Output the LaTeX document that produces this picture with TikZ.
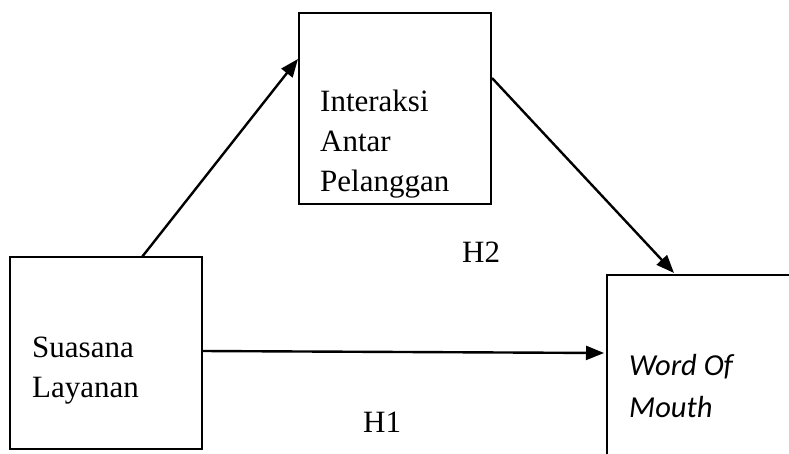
\documentclass[tikz,border=0pt]{standalone}
\usepackage{fontspec}
\setmainfont{Liberation Serif}
\newfontfamily\carlitofont{Carlito}
\usetikzlibrary{arrows.meta}
\begin{document}
\begin{tikzpicture}[x=1pt,y=-1pt,
  boxnode/.style={draw=black,line width=2pt,inner sep=0pt},
  lbl/.style={anchor=base west,inner sep=0pt,font=\fontsize{31}{40}\selectfont},
  wlbl/.style={anchor=base west,inner sep=0pt,font=\carlitofont\itshape\fontsize{30.5}{40}\selectfont},
  arr/.style={line width=2.4pt,-{Triangle[length=18pt,width=14pt]}}]
\useasboundingbox (0,0) rectangle (789,454);
% boxes
\node[boxnode,minimum width=192pt,minimum height=191pt] (tb) at (395,108.5) {};
\node[boxnode,minimum width=192pt,minimum height=192pt] (lb) at (106,353) {};
\node[boxnode,minimum width=200pt,minimum height=200pt] (rb) at (707,375) {};
% texts
\node[lbl] (t1) at (320,112) {Interaksi};
\node[lbl] (t2) at (320,152) {Antar};
\node[lbl] (t3) at (320,192) {Pelanggan};
\node[lbl] (l1) at (32,357) {Suasana};
\node[lbl] (l2) at (32,397) {Layanan};
\node[wlbl] (r1) at (629,375) {Word Of};
\node[wlbl] (r2) at (629,417) {Mouth};
\node[lbl] (h2) at (462,262) {H2};
\node[lbl] (h1) at (363,432) {H1};
% connector ends
\coordinate (a1s) at (142,257);
\coordinate (a1e) at (298,59);
\coordinate (a2s) at (492,78);
\coordinate (a2e) at (674,273);
\coordinate (a3s) at (202,351);
\coordinate (a3e) at (604,353);
\draw[arr] (a1s) -- (a1e);
\draw[arr] (a2s) -- (a2e);
\draw[arr] (a3s) -- (a3e);
\end{tikzpicture}
\end{document}
